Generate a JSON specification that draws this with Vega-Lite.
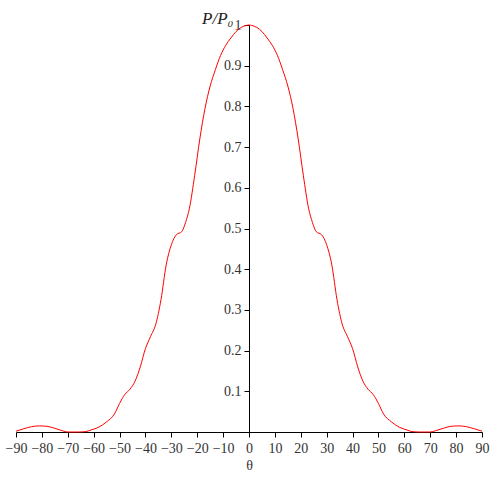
{
  "$schema": "https://vega.github.io/schema/vega-lite/v6.json",
  "width": 466,
  "height": 407,
  "autosize": "none",
  "padding": {"left": 16, "top": 25, "right": 19, "bottom": 46},
  "background": "white",
  "config": {"view": {"stroke": null}},
  "data": {"values": [
    {"t": -90, "p": 0.002}, {"t": -87, "p": 0.008}, {"t": -84, "p": 0.013}, {"t": -81, "p": 0.015},
    {"t": -78, "p": 0.014}, {"t": -75, "p": 0.009}, {"t": -72, "p": 0.003}, {"t": -70, "p": 0.0},
    {"t": -66, "p": 0.0}, {"t": -63, "p": 0.001}, {"t": -61, "p": 0.005}, {"t": -58, "p": 0.012},
    {"t": -55, "p": 0.025}, {"t": -52, "p": 0.044}, {"t": -50, "p": 0.07}, {"t": -48, "p": 0.092},
    {"t": -46, "p": 0.105}, {"t": -44, "p": 0.125}, {"t": -42, "p": 0.16}, {"t": -40, "p": 0.205},
    {"t": -38, "p": 0.235}, {"t": -36, "p": 0.265}, {"t": -34, "p": 0.325}, {"t": -32, "p": 0.41},
    {"t": -30, "p": 0.46}, {"t": -28, "p": 0.485}, {"t": -26, "p": 0.492}, {"t": -24.5, "p": 0.515},
    {"t": -23, "p": 0.55}, {"t": -21, "p": 0.63}, {"t": -19, "p": 0.72}, {"t": -17, "p": 0.795},
    {"t": -15, "p": 0.85}, {"t": -13, "p": 0.89}, {"t": -11, "p": 0.925}, {"t": -9, "p": 0.95},
    {"t": -7, "p": 0.968}, {"t": -5, "p": 0.984}, {"t": -3, "p": 0.994}, {"t": -1, "p": 0.999},
    {"t": 0, "p": 1.0},
    {"t": 1, "p": 0.999}, {"t": 3, "p": 0.994}, {"t": 5, "p": 0.984}, {"t": 7, "p": 0.968},
    {"t": 9, "p": 0.95}, {"t": 11, "p": 0.925}, {"t": 13, "p": 0.89}, {"t": 15, "p": 0.85},
    {"t": 17, "p": 0.795}, {"t": 19, "p": 0.72}, {"t": 21, "p": 0.63}, {"t": 23, "p": 0.55},
    {"t": 24.5, "p": 0.515}, {"t": 26, "p": 0.492}, {"t": 28, "p": 0.485}, {"t": 30, "p": 0.46},
    {"t": 32, "p": 0.41}, {"t": 34, "p": 0.325}, {"t": 36, "p": 0.265}, {"t": 38, "p": 0.235},
    {"t": 40, "p": 0.205}, {"t": 42, "p": 0.16}, {"t": 44, "p": 0.125}, {"t": 46, "p": 0.105},
    {"t": 48, "p": 0.092}, {"t": 50, "p": 0.07}, {"t": 52, "p": 0.044}, {"t": 55, "p": 0.025},
    {"t": 58, "p": 0.012}, {"t": 61, "p": 0.005}, {"t": 63, "p": 0.001}, {"t": 66, "p": 0.0},
    {"t": 70, "p": 0.0}, {"t": 72, "p": 0.003}, {"t": 75, "p": 0.009}, {"t": 78, "p": 0.014},
    {"t": 81, "p": 0.015}, {"t": 84, "p": 0.013}, {"t": 87, "p": 0.008}, {"t": 90, "p": 0.002}
  ]},
  "mark": {"type": "line", "color": "#ff0000", "strokeWidth": 1, "interpolate": "monotone"},
  "encoding": {
    "x": {
      "field": "t", "type": "quantitative",
      "scale": {"domain": [-90, 90], "nice": false, "zero": false},
      "axis": {
        "values": [-90, -80, -70, -60, -50, -40, -30, -20, -10, 0, 10, 20, 30, 40, 50, 60, 70, 80, 90],
        "format": "d",
        "grid": false,
        "domainColor": "#000", "tickColor": "#000", "tickSize": 5,
        "labelFont": "Liberation Serif", "labelFontSize": 14, "labelColor": "#333",
        "labelPadding": 4, "labelFlush": false, "labelOverlap": false,
        "title": "θ", "titleFont": "Liberation Serif", "titleFontSize": 14,
        "titleFontWeight": "normal", "titleColor": "#333", "titlePadding": 3
      }
    },
    "y": {
      "field": "p", "type": "quantitative",
      "scale": {"domain": [0, 1], "nice": false},
      "axis": {
        "values": [0.1, 0.2, 0.3, 0.4, 0.5, 0.6, 0.7, 0.8, 0.9, 1],
        "format": "~g",
        "offset": -233,
        "grid": false,
        "domainColor": "#000", "tickColor": "#000", "tickSize": 5,
        "labelFont": "Liberation Serif", "labelFontSize": 14, "labelColor": "#333",
        "labelPadding": 3,
        "title": "P/P₀", "titleAngle": 0, "titleAlign": "right", "titleBaseline": "alphabetic",
        "titleX": -16, "titleY": -2,
        "titleFont": "Liberation Serif", "titleFontStyle": "italic", "titleFontSize": 17,
        "titleFontWeight": "normal", "titleColor": "#222"
      }
    }
  }
}
